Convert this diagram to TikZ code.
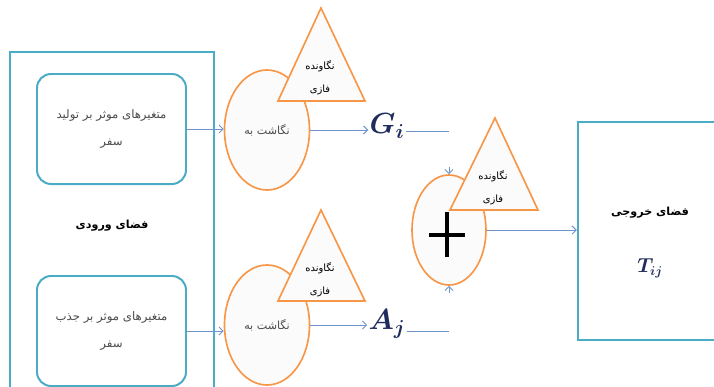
\documentclass[tikz,border=0pt]{standalone}
\usepackage{fontspec}
\newfontfamily\farsi[Script=Arabic]{DejaVu Sans}
\TeXXeTstate=1
\usetikzlibrary{shapes.geometric,arrows.meta}

\definecolor{boxblue}{HTML}{4BACC6}
\definecolor{fuzzyorange}{HTML}{F79646}
\definecolor{linkblue}{HTML}{6F95CC}
\definecolor{mathnavy}{HTML}{1F2D5C}

% right-to-left run of Persian text
\newcommand{\fa}[1]{\beginR#1\endR}

\begin{document}
\begin{tikzpicture}[
    x=0.03cm, y=-0.03cm,
    font=\farsi\fontsize{8.5}{10}\selectfont,
    space/.style={draw=boxblue, line width=1.7pt, fill=white},
    varbox/.style={draw=boxblue, line width=1.7pt, rounded corners=12pt, fill=white,
        minimum width=4.47cm, minimum height=3.3cm, align=center, text=black!70,
        font=\farsi\fontsize{10}{12}\selectfont},
    mapnode/.style={ellipse, draw=fuzzyorange, line width=1.4pt, fill=gray!3, inner sep=0pt},
    fuzzy/.style={draw=fuzzyorange, line width=1.4pt, fill=gray!3, line join=miter},
    link/.style={draw=linkblue, line width=0.8pt},
    arrow/.style={link, -{Straight Barb[length=3.5pt,width=7pt]}},
    sym/.style={font=\fontsize{26}{28}\selectfont\boldmath, text=mathnavy, inner sep=1pt}
]
    \useasboundingbox (0,0) rectangle (714,387);
    \clip (0,0) rectangle (714,387);

    % --- Input space ---
    \node[space, minimum width=6.12cm, minimum height=10.44cm,
          font=\farsi\fontsize{9.5}{11}\selectfont] (inspace) at (112,226)
        {\bfseries\fa{فضای ورودی}};
    \node[varbox] (genbox) at (111.5,129)
        {\fa{متغیرهای موثر بر تولید}\\[11pt]\fa{سفر}};
    \node[varbox] (attbox) at (111.5,331)
        {\fa{متغیرهای موثر بر جذب}\\[11pt]\fa{سفر}};

    % --- Mapping ellipses with their fuzzy triangles ---
    \node[mapnode, minimum width=2.55cm, minimum height=3.6cm, text=black!70,
          font=\farsi\fontsize{9.5}{11}\selectfont] (mapg) at (267,130) {\fa{نگاشت به}};
    \filldraw[fuzzy] (321,8) -- (365,101) -- (278,101) -- cycle;
    \node[align=center] (fuzg) at (320,78) {\fa{نگاونده}\\[10pt]\fa{فازی}};

    \node[mapnode, minimum width=2.55cm, minimum height=3.6cm, text=black!70,
          font=\farsi\fontsize{9.5}{11}\selectfont] (mapa) at (267,325) {\fa{نگاشت به}};
    \filldraw[fuzzy] (321,210) -- (365,301) -- (278,301) -- cycle;
    \node[align=center] (fuza) at (320,280) {\fa{نگاونده}\\[10pt]\fa{فازی}};

    % --- Sum node ---
    \node[mapnode, minimum width=2.22cm, minimum height=3.3cm] (sum) at (449,230) {};
    \filldraw[fuzzy] (495,118) -- (538,210) -- (450,210) -- cycle;
    \node[align=center] (fuzs) at (493,188) {\fa{نگاونده}\\[10pt]\fa{فازی}};
    \draw[line width=4pt] (429,235) -- (465,235) (447,212) -- (447,257);

    % --- Output space ---
    \node[space, line width=2pt, minimum width=4.56cm, minimum height=6.54cm] (outspace) at (654,231) {};
    \node[font=\farsi\fontsize{9.5}{11}\selectfont] (outlabel) at (650,213) {\bfseries\fa{فضای خروجی}};
    \node[sym, font=\fontsize{16}{18}\selectfont\boldmath] (tij) at (650,268) {$T_{ij}$};

    % --- Outputs of the mappings ---
    \node[sym] (gi) at (387,126) {$G_i$};
    \node[sym] (aj) at (387,324) {$A_j$};
    \coordinate (gend) at (449,131);
    \coordinate (aend) at (449,331);

    % --- Connectors ---
    \draw[arrow] (genbox.east) -- (mapg.west |- genbox.east);
    \draw[arrow] (attbox.east) -- (mapa.west |- attbox.east);
    \draw[arrow] (mapg.east) -- (gi.west |- mapg.east);
    \draw[arrow] (mapa.east) -- (aj.west |- mapa.east);
    \draw[link] (gi.east |- gend) -- (gend);
    \draw[link] (aj.east |- aend) -- (aend);
    \draw[arrow] ([yshift=6pt]sum.north) -- (sum.north);
    \draw[arrow] ([yshift=-6pt]sum.south) -- (sum.south);
    \draw[arrow] (sum.east) -- (outspace.west |- sum.east);

\end{tikzpicture}
\end{document}
